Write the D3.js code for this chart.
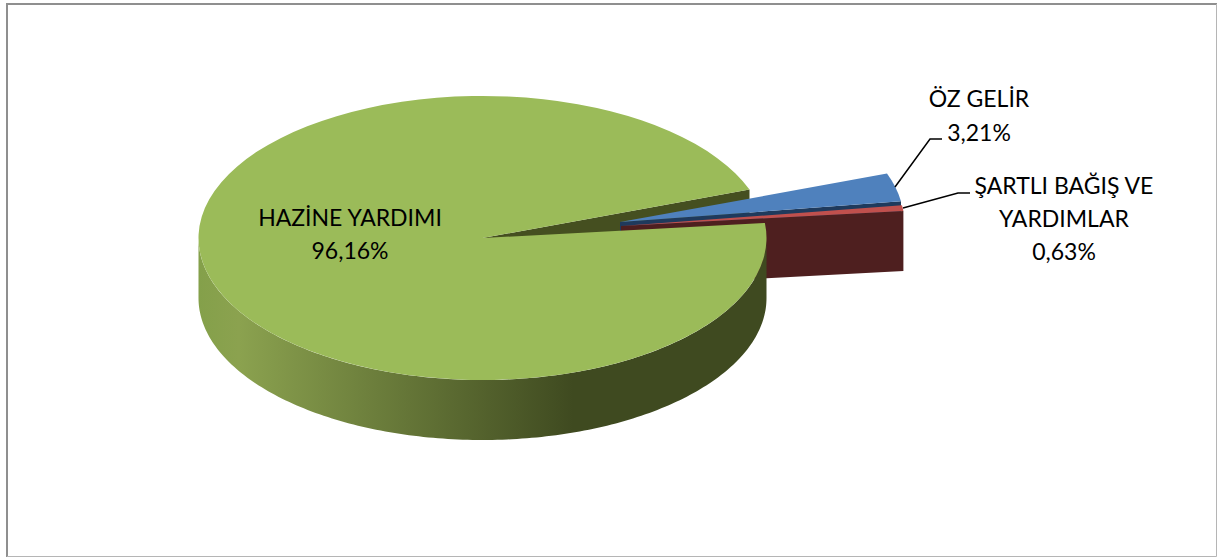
<!DOCTYPE html>
<html>
<head>
<meta charset="utf-8">
<script src="https://cdn.jsdelivr.net/npm/d3@7"></script>
<style>
    html, body { margin: 0; padding: 0; background: #fff; }
    svg { display: block; }
    text { font-family: Lato, "Open Sans", sans-serif; font-size: 23px; fill: #000; }
</style>
</head>
<body>
<div id="chart"></div>
<script>
const categories = ['HAZİNE YARDIMI', 'ÖZ GELİR', 'ŞARTLI BAĞIŞ VE YARDIMLAR'];
const values = [96.16, 3.21, 0.63];
const valueLabels = ['96,16%', '3,21%', '0,63%'];

const width = 1217;
const height = 557;
const cx = 482.5;
const cy = 238;
const rx = 284;
const ry = 142;
const depth = 60;
const startAngle = 83.9 * Math.PI / 180;

const topColors = ['#9bbb59', '#4f81bd', '#c0504d'];
const sideColors = ['#454f20', '#1f3a5c', '#4e1f1f'];
const offsets = [[0, 0], [137.5, -16], [138.5, -12]];

const svg = d3.select('#chart')
    .append('svg')
    .attr('width', width)
    .attr('height', height);

// Frame, darker on the top and left
svg.append('path')
    .attr('d', 'M7,557V4H1217')
    .attr('fill', 'none')
    .attr('stroke', '#8f8f8f')
    .attr('stroke-width', 2);
svg.append('path')
    .attr('d', 'M7,556.5H1216.5V4')
    .attr('fill', 'none')
    .attr('stroke', '#b5b5b5')
    .attr('stroke-width', 1);

const gradient = svg.append('defs')
    .append('linearGradient')
    .attr('id', 'wall')
    .attr('gradientUnits', 'userSpaceOnUse')
    .attr('x1', cx - rx)
    .attr('x2', cx + rx)
    .attr('y1', 0)
    .attr('y2', 0);
[[0, '#84a04a'], [0.07, '#8ba24f'], [0.66, '#3f4a20'], [1, '#3f4a20']].forEach(([o, c]) => {
    gradient.append('stop').attr('offset', o).attr('stop-color', c);
});

const slices = d3.pie()
    .sort(null)
    .startAngle(startAngle)
    .endAngle(startAngle + 2 * Math.PI)(values);

const arc = d3.arc().innerRadius(0).outerRadius(rx);
const px = a => rx * Math.sin(a);
const py = a => -ry * Math.cos(a);

// Flat side of a slice, seen where it was pulled apart
function drawCut(i, angle) {
    const [dx, dy] = offsets[i];
    const pts = [
        [cx + dx, cy + dy],
        [cx + dx + px(angle), cy + dy + py(angle)],
        [cx + dx + px(angle), cy + dy + py(angle) + depth],
        [cx + dx, cy + dy + depth]
    ];
    svg.append('path')
        .attr('d', d3.line()(pts) + 'Z')
        .attr('fill', sideColors[i]);
}

function drawTop(i) {
    const [dx, dy] = offsets[i];
    svg.append('path')
        .attr('transform', `translate(${cx + dx}, ${cy + dy}) scale(1, ${ry / rx})`)
        .attr('d', arc(slices[i]))
        .attr('fill', topColors[i]);
}

// Back to front
drawCut(0, slices[0].endAngle);
drawCut(1, slices[1].endAngle);
drawTop(1);
drawCut(2, slices[2].endAngle);
drawTop(2);

// Outer wall of the big slice
const wall = d3.area()
    .x(a => cx + px(a))
    .y0(a => cy + py(a))
    .y1(a => cy + py(a) + depth);
svg.append('path')
    .attr('d', wall(d3.range(90, 270.5, 1).map(d => d * Math.PI / 180)))
    .attr('fill', 'url(#wall)');
drawTop(0);

// Leader lines
const leaders = [
    [[895, 187], [930, 139], [942, 139]],
    [[903, 208], [958, 193], [970, 193]]
];
svg.selectAll('.leader')
    .data(leaders)
    .join('path')
    .attr('class', 'leader')
    .attr('d', d => d3.line()(d))
    .attr('fill', 'none')
    .attr('stroke', '#000')
    .attr('stroke-width', 1.5);

// Labels
const labels = [
    { x: 350, y: 226, step: 32.5, lines: [categories[0], valueLabels[0]] },
    { x: 979, y: 107, step: 34, lines: [categories[1], valueLabels[1]] },
    { x: 1064, y: 194, step: 33, lines: ['ŞARTLI BAĞIŞ VE', 'YARDIMLAR', valueLabels[2]] }
];
labels.forEach(l => {
    svg.append('text')
        .attr('text-anchor', 'middle')
        .selectAll('tspan')
        .data(l.lines)
        .join('tspan')
        .attr('x', l.x)
        .attr('y', (d, i) => l.y + i * l.step)
        .text(d => d);
});
</script>
</body>
</html>
